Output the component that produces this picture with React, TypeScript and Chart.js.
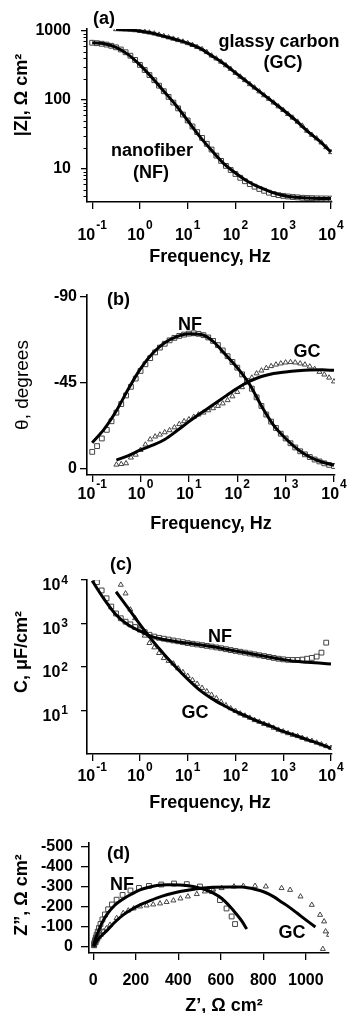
import React, { useEffect, useRef } from "react";
import { Chart, registerables } from "chart.js";

Chart.register(...registerables);

const FONT = "'Liberation Sans', Arial, Helvetica, sans-serif";
const W = 347;

// ---------------- data ----------------
const FREQ = [
  0.1, 0.126, 0.158, 0.2, 0.251, 0.316, 0.398, 0.501, 0.631, 0.794,
  1, 1.26, 1.58, 2, 2.51, 3.16, 3.98, 5.01, 6.31, 7.94,
  10, 12.6, 15.8, 20, 25.1, 31.6, 39.8, 50.1, 63.1, 79.4,
  100, 126, 158, 200, 251, 316, 398, 501, 631, 794,
  1000, 1260, 1580, 2000, 2510, 3160, 3980, 5010, 6310, 7940, 10000,
];
const FIT_FREQ = [
  0.1, 0.178, 0.316, 0.562, 1, 1.78, 3.16, 5.62, 10, 17.8, 31.6, 56.2, 100,
  178, 316, 562, 1000, 1780, 3160, 5620, 10000,
];

const X_LOG_TICKS = [0.1, 1, 10, 100, 1000, 10000];
const X_LOG_EXPS = ["-1", "0", "1", "2", "3", "4"];

// (a) |Z|
const A_Y_TICKS = [10, 100, 1000];
const A_Y_MINOR = [4, 5, 6, 7, 8, 9, 20, 30, 40, 50, 60, 70, 80, 90, 200, 300, 400, 500, 600, 700, 800, 900];
const A_NF = [
  670, 660, 648, 630, 605, 575, 535, 488, 435, 378,
  320, 270, 228, 192, 160, 133, 110, 91, 75, 61,
  50, 41, 34, 28, 23, 19, 15.5, 13, 11, 9.6,
  8.4, 7.4, 6.6, 6.0, 5.5, 5.1, 4.8, 4.5, 4.3, 4.15,
  4.05, 3.97, 3.9, 3.85, 3.8, 3.77, 3.75, 3.73, 3.72, 3.71, 3.7,
];
const A_GC = [
  null, null, null, null, null, 1050, 1045, 1040, 1030, 1015,
  990, 965, 940, 910, 875, 835, 800, 765, 730, 695,
  660, 620, 580, 540, 490, 436, 395, 355, 315, 280,
  245, 216, 192, 168, 150, 132, 116, 103, 91, 80,
  71, 62, 55, 48, 42, 35.5, 31, 27.5, 24, 20.5, 17.4,
];
const A_NF_FIT = [670, 650, 575, 455, 320, 210, 133, 84, 50, 29.5, 18.5, 12, 8.7, 6.6, 5.4, 4.6, 4.1, 3.87, 3.77, 3.72, 3.7];
const A_GC_FIT = [null, null, 1050, 1030, 990, 925, 835, 748, 660, 560, 436, 335, 245, 180, 132, 97, 71, 51, 35.5, 25.5, 17.4];

// (b) phase
const B_Y_TICKS = [-90, -45, 0];
const B_NF = [
  -9, -12, -16, -20.5, -25, -29.5, -34, -38.5, -43, -47.3,
  -51.3, -54.8, -58, -61, -63.5, -65.5, -67.3, -68.6, -69.6, -70.3,
  -70.8, -71, -70.7, -70, -68.8, -67, -64.8, -62, -59, -56,
  -53, -49.5, -46, -42, -37.5, -33, -28.5, -24.8, -21.5, -18.5,
  -16, -13.5, -11.3, -9.3, -7.7, -6.3, -5, -4, -3, -2.2, -1.6,
];
const B_GC = [
  null, null, null, null, null, -2.3, -2.6, -3.0, -6.0, -7.5,
  -10, -12.8, -15.5, -17, -18, -19.2, -20.3, -21.8, -23.5, -25,
  -26, -27.3, -28.5, -29.5, -30.7, -31.8, -33, -34.3, -36, -38,
  -40.3, -42.8, -45.3, -47.8, -50, -51.5, -52.8, -53.8, -54.6, -55.2,
  -55.7, -55.9, -55.7, -55.2, -54.6, -53.6, -52.3, -50.8, -49.4, -47.8, -45.8,
];
const B_NF_FIT = [-13.8, -21, -30.5, -42, -52.5, -60.5, -66, -69.2, -70.7, -70.3, -66.8, -60, -53, -44.5, -33, -23, -16, -10.3, -6.3, -3.7, -2.0];
const B_GC_FIT = [null, null, -4.7, -7, -10, -12.5, -15.5, -20, -24.8, -29.3, -33.6, -38, -42.3, -45.8, -48.4, -50, -50.8, -51.4, -51.8, -51.9, -51.6];

// (c) capacitance
const C_Y_TICKS = [10, 100, 1000, 10000];
const C_Y_EXPS = ["1", "2", "3", "4"];
const C_NF = [
  null, 8900, 5750, 3800, 2450, 1700, 1320, 1100, 955, 830,
  724, 630, 550, 500, 468, 447, 427, 407, 390, 372,
  355, 342, 330, 318, 306, 295, 282, 270, 257, 245,
  234, 224, 214, 204, 195, 186, 178, 170, 162, 155,
  150, 146, 145, 145, 148, 155, 162, 174, 214, 363, null,
];
const C_GC = [
  null, null, null, null, null, null, 7760, 4900, 2090, 1320,
  851, 525, 355, 282, 209, 160, 138, 120, 93, 76,
  62, 50, 41, 33, 27.5, 22.9, 19.1, 15.8, 13.2, 11.2,
  9.8, 8.5, 7.6, 6.8, 6.0, 5.5, 4.9, 4.5, 4.0, 3.6,
  3.3, 3.0, 2.75, 2.57, 2.34, 2.14, 2.0, 1.82, 1.66, 1.51, 1.38,
];
const C_NF_FIT = [9600, 3630, 1585, 933, 676, 501, 427, 385, 355, 324, 295, 263, 234, 209, 186, 166, 148, 135, 129, 123, 117];
const C_GC_FIT = [null, null, 5370, 2290, 955, 417, 200, 100, 52.5, 29.5, 19, 13.2, 9.5, 7.2, 5.5, 4.3, 3.3, 2.7, 2.14, 1.74, 1.35];

// (d) Nyquist
const D_X_TICKS = [0, 200, 400, 600, 800, 1000];
const D_Y_TICKS = [-500, -400, -300, -200, -100, 0];
const D_NF_RE = [667, 651, 627, 596, 557, 502, 440, 380, 320, 262, 215, 175, 138, 110, 88, 70, 55, 43, 34, 27, 21, 16, 12, 9.5, 7.5, 6, 5, 4.5, 4.2, 4];
const D_NF_IM = [-112, -150, -190, -232, -278, -300, -312, -315, -310, -303, -293, -280, -258, -234, -210, -186, -160, -135, -112, -92, -74, -58, -45, -34, -26, -19, -14, -10, -7.5, -5.5];
const D_GC_RE = [1080, 1109, 1093, 1086, 1067, 1028, 975, 926, 886, 812, 761, 706, 662, 604, 565, 525, 487, 445, 410, 377, 345, 314, 282, 251, 220, 190, 165, 141, 110, 79, 62, 47, 35, 26, 20, 15, 12];
const D_GC_IM = [13, -58, -75, -125, -158, -208, -250, -283, -292, -300, -303, -303, -300, -292, -285, -275, -262, -250, -240, -230, -222, -215, -210, -205, -200, -190, -180, -167, -142, -108, -90, -75, -58, -45, -34, -25, -18];
const D_NF_FIT_RE = [2, 8, 24, 40, 63, 100, 141, 180, 220, 260, 298, 350, 408, 470, 525, 565, 605, 643, 675, 700, 722];
const D_NF_FIT_IM = [0, -30, -75, -115, -158, -205, -238, -262, -283, -296, -305, -309, -308, -300, -285, -267, -240, -200, -160, -125, -87];
const D_GC_FIT_RE = [2, 15, 35, 63, 100, 141, 180, 220, 260, 298, 350, 408, 480, 560, 640, 700, 760, 810, 850, 880, 920, 960, 1000, 1045];
const D_GC_FIT_IM = [0, -25, -50, -78, -120, -158, -185, -208, -226, -242, -260, -275, -288, -296, -298, -297, -286, -270, -248, -226, -198, -166, -133, -97];

// ---------------- helpers ----------------
type Num = number | null;
const zip = (xs: number[], ys: Num[]) =>
  xs.map((x, i) => ({ x, y: ys[i] })).filter((p) => p.y !== null && p.y !== undefined);

const markers = (data: any[], style: "rect" | "triangle") => ({
  data,
  showLine: false,
  pointStyle: style,
  pointRadius: style === "rect" ? 3.4 : 2.9,
  pointHoverRadius: 0,
  pointBorderWidth: 1,
  pointBorderColor: "#444",
  pointBackgroundColor: "rgba(255,255,255,0)",
  order: 2,
});
const fitLine = (data: any[]) => ({
  data,
  showLine: true,
  borderColor: "#000",
  borderWidth: 3,
  pointRadius: 0,
  pointHoverRadius: 0,
  cubicInterpolationMode: "monotone",
  fill: false,
  order: 1,
});

type Txt = { t: string; x: number; y: number; align?: CanvasTextAlign; rot?: boolean; size?: number; weight?: string };

interface AxisSpec {
  type: "logarithmic" | "linear";
  min: number;
  max: number;
  reverse?: boolean;
  ticks: number[];
  labels: boolean;
  tickLength: number;
  pad?: number;
}

interface PanelSpec {
  key: string;
  top: number;
  h: number;
  area: { left: number; right: number; top: number; bottom: number };
  x: AxisSpec;
  y: AxisSpec;
  datasets: any[];
  texts: Txt[];
  supX?: { values: number[]; exps: string[]; base: number; expBase: number };
  supY?: { values: number[]; exps: string[]; right: number; base: number; expBase: number };
  minorY?: number[];
}

const XAXH = 40;

function axisOpts(spec: AxisSpec, isX: boolean, size: number) {
  return {
    type: spec.type,
    position: isX ? "bottom" : "left",
    min: spec.min,
    max: spec.max,
    reverse: !!spec.reverse,
    grid: {
      display: true,
      drawOnChartArea: false,
      drawTicks: true,
      tickLength: spec.tickLength,
      color: "#000",
      lineWidth: 1.3,
    },
    border: { display: true, color: "#000", width: 1.6 },
    ticks: {
      display: spec.labels,
      color: "#000",
      font: { family: FONT, size: 16, weight: "bold" },
      padding: spec.pad ?? 8,
      autoSkip: false,
      maxRotation: 0,
      minRotation: 0,
      callback: (v: any) => String(v),
    },
    afterBuildTicks: (s: any) => {
      s.ticks = spec.ticks.map((v) => ({ value: v }));
    },
    afterFit: (s: any) => {
      if (isX) s.height = size;
      else s.width = size;
      s.paddingLeft = 0;
      s.paddingRight = 0;
      s.paddingTop = 0;
      s.paddingBottom = 0;
    },
  };
}

function decorPlugin(p: PanelSpec) {
  return {
    id: "decor_" + p.key,
    afterDraw(chart: any) {
      const ctx: CanvasRenderingContext2D = chart.ctx;
      const area = chart.chartArea;
      ctx.save();
      ctx.fillStyle = "#000";
      ctx.strokeStyle = "#000";
      if (p.minorY) {
        const s = chart.scales.y;
        ctx.lineWidth = 1;
        ctx.beginPath();
        for (const v of p.minorY) {
          const py = Math.round(s.getPixelForValue(v)) + 0.5;
          ctx.moveTo(area.left - 3.5, py);
          ctx.lineTo(area.left, py);
        }
        ctx.stroke();
      }
      ctx.textBaseline = "alphabetic";
      if (p.supX) {
        const s = chart.scales.x;
        p.supX.values.forEach((v, i) => {
          const px = s.getPixelForValue(v);
          ctx.font = `bold 16px ${FONT}`;
          const w1 = ctx.measureText("10").width;
          ctx.font = `bold 12px ${FONT}`;
          const w2 = ctx.measureText(p.supX!.exps[i]).width;
          const x0 = px - (w1 + 1 + w2) / 2;
          ctx.textAlign = "left";
          ctx.font = `bold 16px ${FONT}`;
          ctx.fillText("10", x0, p.supX!.base - p.top);
          ctx.font = `bold 12px ${FONT}`;
          ctx.fillText(p.supX!.exps[i], x0 + w1 + 1, p.supX!.expBase - p.top);
        });
      }
      if (p.supY) {
        const s = chart.scales.y;
        p.supY.values.forEach((v, i) => {
          const py = s.getPixelForValue(v);
          ctx.font = `bold 16px ${FONT}`;
          const w1 = ctx.measureText("10").width;
          ctx.font = `bold 12px ${FONT}`;
          const w2 = ctx.measureText(p.supY!.exps[i]).width;
          const x0 = p.supY!.right - (w1 + 1 + w2);
          ctx.textAlign = "left";
          ctx.font = `bold 16px ${FONT}`;
          ctx.fillText("10", x0, py + p.supY!.base);
          ctx.font = `bold 12px ${FONT}`;
          ctx.fillText(p.supY!.exps[i], x0 + w1 + 1, py + p.supY!.expBase);
        });
      }
      for (const t of p.texts) {
        ctx.font = `${t.weight ?? "bold"} ${t.size ?? 18}px ${FONT}`;
        ctx.textAlign = t.align ?? "center";
        if (t.rot) {
          ctx.save();
          ctx.translate(t.x, t.y - p.top);
          ctx.rotate(-Math.PI / 2);
          ctx.fillText(t.t, 0, 0);
          ctx.restore();
        } else {
          ctx.fillText(t.t, t.x, t.y - p.top);
        }
      }
      ctx.restore();
    },
  };
}

function buildConfig(p: PanelSpec): any {
  return {
    type: "scatter",
    data: { datasets: p.datasets },
    options: {
      responsive: false,
      maintainAspectRatio: false,
      animation: false,
      devicePixelRatio: 1,
      events: [],
      layout: {
        autoPadding: false,
        padding: {
          left: 0,
          top: p.area.top,
          right: W - p.area.right,
          bottom: p.h - p.area.bottom - XAXH,
        },
      },
      plugins: { legend: { display: false }, tooltip: { enabled: false }, title: { display: false } },
      scales: {
        x: axisOpts(p.x, true, XAXH),
        y: axisOpts(p.y, false, p.area.left),
      },
    },
    plugins: [decorPlugin(p)],
  };
}

// ---------------- panels ----------------
const PANELS: PanelSpec[] = [
  {
    key: "a",
    top: 0,
    h: 270,
    area: { left: 87, right: 332, top: 29, bottom: 202 },
    x: { type: "logarithmic", min: 0.078, max: 10500, ticks: X_LOG_TICKS, labels: false, tickLength: 7 },
    y: { type: "logarithmic", min: 3.3, max: 1060, ticks: A_Y_TICKS, labels: true, tickLength: 6, pad: 10 },
    datasets: [
      fitLine(zip(FIT_FREQ, A_NF_FIT)),
      fitLine(zip(FIT_FREQ, A_GC_FIT)),
      markers(zip(FREQ, A_NF), "rect"),
      markers(zip(FREQ, A_GC), "triangle"),
    ],
    minorY: A_Y_MINOR,
    supX: { values: X_LOG_TICKS, exps: X_LOG_EXPS, base: 240, expBase: 229 },
    texts: [
      { t: "(a)", x: 93, y: 24, align: "left" },
      { t: "glassy carbon", x: 279, y: 47 },
      { t: "(GC)", x: 283, y: 68 },
      { t: "nanofiber", x: 152, y: 156 },
      { t: "(NF)", x: 151, y: 178 },
      { t: "Frequency, Hz", x: 210, y: 262 },
      { t: "|Z|, \u03A9 cm\u00B2", x: 27, y: 95, rot: true },
    ],
  },
  {
    key: "b",
    top: 270,
    h: 268,
    area: { left: 87, right: 335, top: 25, bottom: 205 },
    x: { type: "logarithmic", min: 0.078, max: 10500, ticks: X_LOG_TICKS, labels: false, tickLength: 7 },
    y: { type: "linear", min: -91, max: 3.1, reverse: true, ticks: B_Y_TICKS, labels: true, tickLength: 7, pad: 3 },
    datasets: [
      fitLine(zip(FIT_FREQ, B_NF_FIT)),
      fitLine(zip(FIT_FREQ, B_GC_FIT)),
      markers(zip(FREQ, B_NF), "rect"),
      markers(zip(FREQ, B_GC), "triangle"),
    ],
    supX: { values: X_LOG_TICKS, exps: X_LOG_EXPS, base: 499, expBase: 488 },
    texts: [
      { t: "(b)", x: 107, y: 305, align: "left" },
      { t: "NF", x: 190, y: 330 },
      { t: "GC", x: 307, y: 357 },
      { t: "Frequency, Hz", x: 211, y: 529 },
      { t: "\u03B8, degrees", x: 28, y: 385, rot: true, weight: "normal", size: 19 },
    ],
  },
  {
    key: "c",
    top: 538,
    h: 277,
    area: { left: 87, right: 332, top: 42, bottom: 216 },
    x: { type: "logarithmic", min: 0.078, max: 10500, ticks: X_LOG_TICKS, labels: false, tickLength: 7 },
    y: { type: "logarithmic", min: 1, max: 10000, ticks: C_Y_TICKS, labels: false, tickLength: 6 },
    datasets: [
      fitLine(zip(FIT_FREQ, C_NF_FIT)),
      fitLine(zip(FIT_FREQ, C_GC_FIT)),
      markers(zip(FREQ, C_NF), "rect"),
      markers(zip(FREQ, C_GC), "triangle"),
    ],
    supX: { values: X_LOG_TICKS, exps: X_LOG_EXPS, base: 781, expBase: 771 },
    supY: { values: C_Y_TICKS, exps: C_Y_EXPS, right: 68, base: 10, expBase: 3.5 },
    texts: [
      { t: "(c)", x: 110, y: 570, align: "left" },
      { t: "NF", x: 220, y: 642 },
      { t: "GC", x: 195, y: 718 },
      { t: "Frequency, Hz", x: 210, y: 808 },
      { t: "C, \u03BCF/cm\u00B2", x: 27, y: 652, rot: true },
    ],
  },
  {
    key: "d",
    top: 815,
    h: 198,
    area: { left: 89, right: 329, top: 28, bottom: 138 },
    x: { type: "linear", min: -20, max: 1109, ticks: D_X_TICKS, labels: true, tickLength: 7, pad: 11 },
    y: { type: "linear", min: -518, max: 33, reverse: true, ticks: D_Y_TICKS, labels: true, tickLength: 8, pad: 8 },
    datasets: [
      fitLine(zip(D_NF_FIT_RE, D_NF_FIT_IM)),
      fitLine(zip(D_GC_FIT_RE, D_GC_FIT_IM)),
      markers(zip(D_NF_RE, D_NF_IM), "rect"),
      markers(zip(D_GC_RE, D_GC_IM), "triangle"),
    ],
    texts: [
      { t: "(d)", x: 107, y: 859, align: "left" },
      { t: "NF", x: 122, y: 890 },
      { t: "GC", x: 292, y: 938 },
      { t: "Z\u2019, \u03A9 cm\u00B2", x: 224, y: 1011 },
      { t: "Z\u201D, \u03A9 cm\u00B2", x: 27, y: 895, rot: true },
    ],
  },
];

function Panel({ p }: { p: PanelSpec }) {
  const ref = useRef<HTMLCanvasElement | null>(null);
  useEffect(() => {
    if (!ref.current) return;
    const chart = new Chart(ref.current, buildConfig(p));
    return () => chart.destroy();
  }, [p]);
  return (
    <canvas
      ref={ref}
      width={W}
      height={p.h}
      style={{ position: "absolute", left: 0, top: p.top, width: W, height: p.h, display: "block" }}
    />
  );
}

export default function App() {
  return (
    <div style={{ position: "absolute", left: 0, top: 0, width: W, height: 1013, background: "#fff", overflow: "hidden" }}>
      {PANELS.map((p) => (
        <Panel key={p.key} p={p} />
      ))}
    </div>
  );
}
